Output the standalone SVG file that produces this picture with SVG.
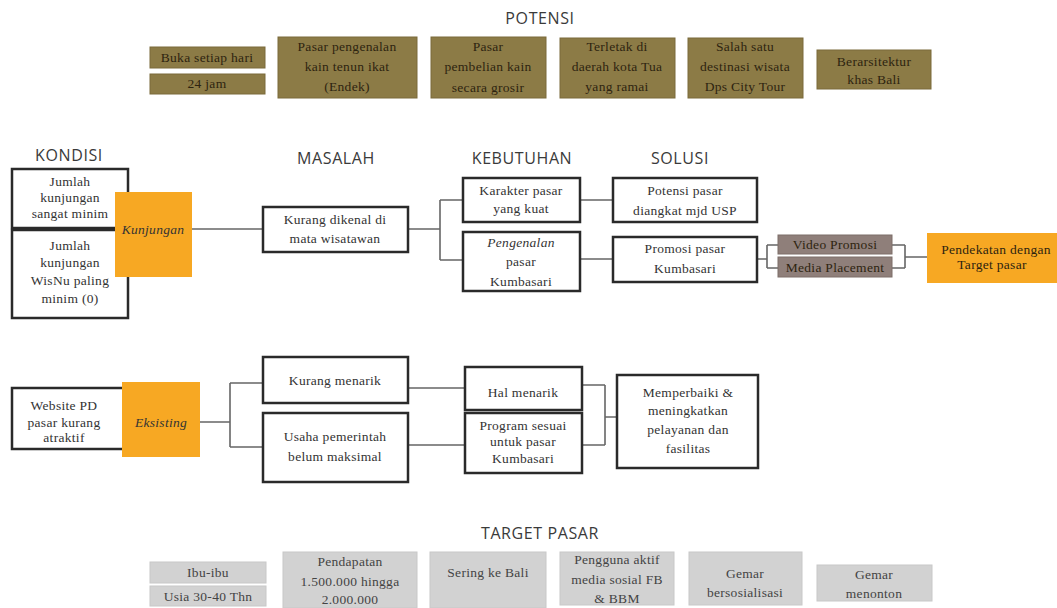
<svg xmlns="http://www.w3.org/2000/svg" width="1057" height="608" viewBox="0 0 1057 608">
<style>
.bg{fill:#ffffff}
.head{font-family:"Open Sans","Liberation Sans",sans-serif;font-size:16px;fill:#3a3a3a;text-anchor:middle;letter-spacing:0.6px}
.t{font-family:"Liberation Serif",serif;font-size:13.5px;fill:#333;text-anchor:middle;letter-spacing:0.3px}
.tp{font-family:"Liberation Serif",serif;font-size:13.5px;fill:#2e2410;text-anchor:middle;letter-spacing:0.3px}
.tg{font-family:"Liberation Serif",serif;font-size:13.5px;fill:#444;text-anchor:middle;letter-spacing:0.3px}
.it{font-style:italic}
.box{fill:#ffffff;stroke:#2a2a2a;stroke-width:2.5}
.pot{fill:#8c7b46;stroke:#7a6a3a;stroke-width:1}
.tgt{fill:#d2d2d2;stroke:#c8c8c8;stroke-width:1}
.org{fill:#f7a823}
.mauve{fill:#8f7f7a;stroke:#7d6e69;stroke-width:1}
.con{fill:none;stroke:#666;stroke-width:1.6}
</style>
<rect class="bg" x="0" y="0" width="1057" height="608"/>

<g id="headings">
<text class="head" x="540" y="24">POTENSI</text>
<text class="head" x="69" y="161">KONDISI</text>
<text class="head" x="336" y="164">MASALAH</text>
<text class="head" x="522" y="164">KEBUTUHAN</text>
<text class="head" x="680" y="164">SOLUSI</text>
<text class="head" x="540" y="539">TARGET PASAR</text>
</g>

<g id="connectors">
<path class="con" d="M192,229 H263"/>
<path class="con" d="M408,229 H440 M440,200 V260 M440,200 H463 M440,260 H463"/>
<path class="con" d="M580,200 H613 M580,259 H613"/>
<path class="con" d="M757,259 H767 M767,245 V268 M767,245 H778 M767,268 H778"/>
<path class="con" d="M892,245 H905 M892,268 H905 M905,245 V268 M905,257 H927"/>
<path class="con" d="M200,422 H230 M230,383 V447 M230,383 H263 M230,447 H263"/>
<path class="con" d="M408,388 H465 M408,445 H465"/>
<path class="con" d="M582,385 H605 M582,445 H605 M605,385 V445 M605,417 H617"/>
</g>

<g id="potensi-buka">
<rect class="pot" x="150" y="47" width="115" height="21"/>
<text class="tp" x="207" y="62">Buka setiap hari</text>
<rect class="pot" x="150" y="74" width="115" height="20"/>
<text class="tp" x="207" y="88">24 jam</text>
</g>
<g id="potensi-endek">
<rect class="pot" x="278" y="37" width="139" height="61"/>
<text class="tp" x="347" y="51">Pasar pengenalan</text>
<text class="tp" x="347" y="71">kain tenun ikat</text>
<text class="tp" x="347" y="91">(Endek)</text>
</g>
<g id="potensi-grosir">
<rect class="pot" x="431" y="37" width="115" height="61"/>
<text class="tp" x="488" y="51">Pasar</text>
<text class="tp" x="488" y="71">pembelian kain</text>
<text class="tp" x="488" y="92">secara grosir</text>
</g>
<g id="potensi-kota">
<rect class="pot" x="560" y="38" width="115" height="60"/>
<text class="tp" x="617" y="51">Terletak di</text>
<text class="tp" x="617" y="71">daerah kota Tua</text>
<text class="tp" x="617" y="91">yang ramai</text>
</g>
<g id="potensi-destinasi">
<rect class="pot" x="688" y="38" width="115" height="60"/>
<text class="tp" x="745" y="51">Salah satu</text>
<text class="tp" x="745" y="71">destinasi wisata</text>
<text class="tp" x="745" y="91">Dps City Tour</text>
</g>
<g id="potensi-arsitektur">
<rect class="pot" x="817" y="50" width="114" height="39"/>
<text class="tp" x="874" y="66">Berarsitektur</text>
<text class="tp" x="874" y="84">khas Bali</text>
</g>

<g id="kondisi-1">
<rect class="box" x="12" y="169" width="116" height="59"/>
<text class="t" x="70" y="186">Jumlah</text>
<text class="t" x="70" y="202">kunjungan</text>
<text class="t" x="70" y="218">sangat minim</text>
</g>
<g id="kondisi-2">
<rect class="box" x="12" y="230" width="116" height="88"/>
<text class="t" x="70" y="250">Jumlah</text>
<text class="t" x="70" y="267">kunjungan</text>
<text class="t" x="70" y="285">WisNu paling</text>
<text class="t" x="70" y="303">minim (0)</text>
</g>
<g id="kunjungan">
<rect class="org" x="115" y="192" width="77" height="85"/>
<text class="t it" x="153" y="234" fill="#3a2a00">Kunjungan</text>
</g>

<g id="masalah-1">
<rect class="box" x="263" y="207" width="145" height="45"/>
<text class="t" x="335" y="224">Kurang dikenal di</text>
<text class="t" x="335" y="243">mata wisatawan</text>
</g>
<g id="kebutuhan-1">
<rect class="box" x="463" y="178" width="117" height="44"/>
<text class="t" x="521" y="195">Karakter pasar</text>
<text class="t" x="521" y="213">yang kuat</text>
</g>
<g id="kebutuhan-2">
<rect class="box" x="463" y="232" width="117" height="59"/>
<text class="t it" x="521" y="247">Pengenalan</text>
<text class="t" x="521" y="266">pasar</text>
<text class="t" x="521" y="286">Kumbasari</text>
</g>
<g id="solusi-1">
<rect class="box" x="613" y="178" width="144" height="44"/>
<text class="t" x="685" y="195">Potensi pasar</text>
<text class="t" x="685" y="215">diangkat mjd USP</text>
</g>
<g id="solusi-2">
<rect class="box" x="613" y="237" width="144" height="45"/>
<text class="t" x="685" y="253">Promosi pasar</text>
<text class="t" x="685" y="273">Kumbasari</text>
</g>
<g id="video-promosi">
<rect class="mauve" x="778" y="235" width="114" height="19"/>
<text class="tp" x="835" y="249">Video Promosi</text>
</g>
<g id="media-placement">
<rect class="mauve" x="778" y="257" width="114" height="20"/>
<text class="tp" x="835" y="272">Media Placement</text>
</g>
<g id="pendekatan">
<rect class="org" x="927" y="233" width="130" height="50"/>
<text class="tp" x="996" y="254">Pendekatan dengan</text>
<text class="tp" x="992" y="269">Target pasar</text>
</g>

<g id="website">
<rect class="box" x="12" y="388" width="116" height="61"/>
<text class="t" x="64" y="410">Website PD</text>
<text class="t" x="64" y="427">pasar kurang</text>
<text class="t" x="64" y="442">atraktif</text>
</g>
<g id="eksisting">
<rect class="org" x="122" y="382" width="78" height="75"/>
<text class="t it" x="161" y="427" fill="#3a2a00">Eksisting</text>
</g>
<g id="kurang-menarik">
<rect class="box" x="263" y="357" width="145" height="46"/>
<text class="t" x="335" y="385">Kurang menarik</text>
</g>
<g id="usaha-pemerintah">
<rect class="box" x="263" y="413" width="145" height="69"/>
<text class="t" x="335" y="441">Usaha pemerintah</text>
<text class="t" x="335" y="461">belum maksimal</text>
</g>
<g id="hal-menarik">
<rect class="box" x="465" y="367" width="117" height="43"/>
<text class="t" x="523" y="397">Hal menarik</text>
</g>
<g id="program-sesuai">
<rect class="box" x="465" y="413" width="117" height="60"/>
<text class="t" x="523" y="430">Program sesuai</text>
<text class="t" x="523" y="446">untuk pasar</text>
<text class="t" x="523" y="463">Kumbasari</text>
</g>
<g id="memperbaiki">
<rect class="box" x="617" y="375" width="141" height="93"/>
<text class="t" x="688" y="397">Memperbaiki &amp;</text>
<text class="t" x="688" y="415">meningkatkan</text>
<text class="t" x="688" y="434">pelayanan dan</text>
<text class="t" x="688" y="453">fasilitas</text>
</g>

<g id="target-ibu">
<rect class="tgt" x="150" y="562" width="116" height="21"/>
<text class="tg" x="208" y="577">Ibu-ibu</text>
<rect class="tgt" x="150" y="586" width="116" height="20"/>
<text class="tg" x="208" y="601">Usia 30-40 Thn</text>
</g>
<g id="target-pendapatan">
<rect class="tgt" x="283" y="552" width="134" height="56"/>
<text class="tg" x="350" y="566">Pendapatan</text>
<text class="tg" x="350" y="586">1.500.000 hingga</text>
<text class="tg" x="350" y="604">2.000.000</text>
</g>
<g id="target-bali">
<rect class="tgt" x="430" y="552" width="116" height="56"/>
<text class="tg" x="488" y="577">Sering ke Bali</text>
</g>
<g id="target-medsos">
<rect class="tgt" x="560" y="552" width="114" height="53"/>
<text class="tg" x="617" y="564">Pengguna aktif</text>
<text class="tg" x="617" y="584">media sosial FB</text>
<text class="tg" x="617" y="603">&amp; BBM</text>
</g>
<g id="target-sosialisasi">
<rect class="tgt" x="689" y="552" width="113" height="53"/>
<text class="tg" x="745" y="578">Gemar</text>
<text class="tg" x="745" y="597">bersosialisasi</text>
</g>
<g id="target-menonton">
<rect class="tgt" x="817" y="565" width="115" height="36"/>
<text class="tg" x="874" y="579">Gemar</text>
<text class="tg" x="874" y="598">menonton</text>
</g>
</svg>
